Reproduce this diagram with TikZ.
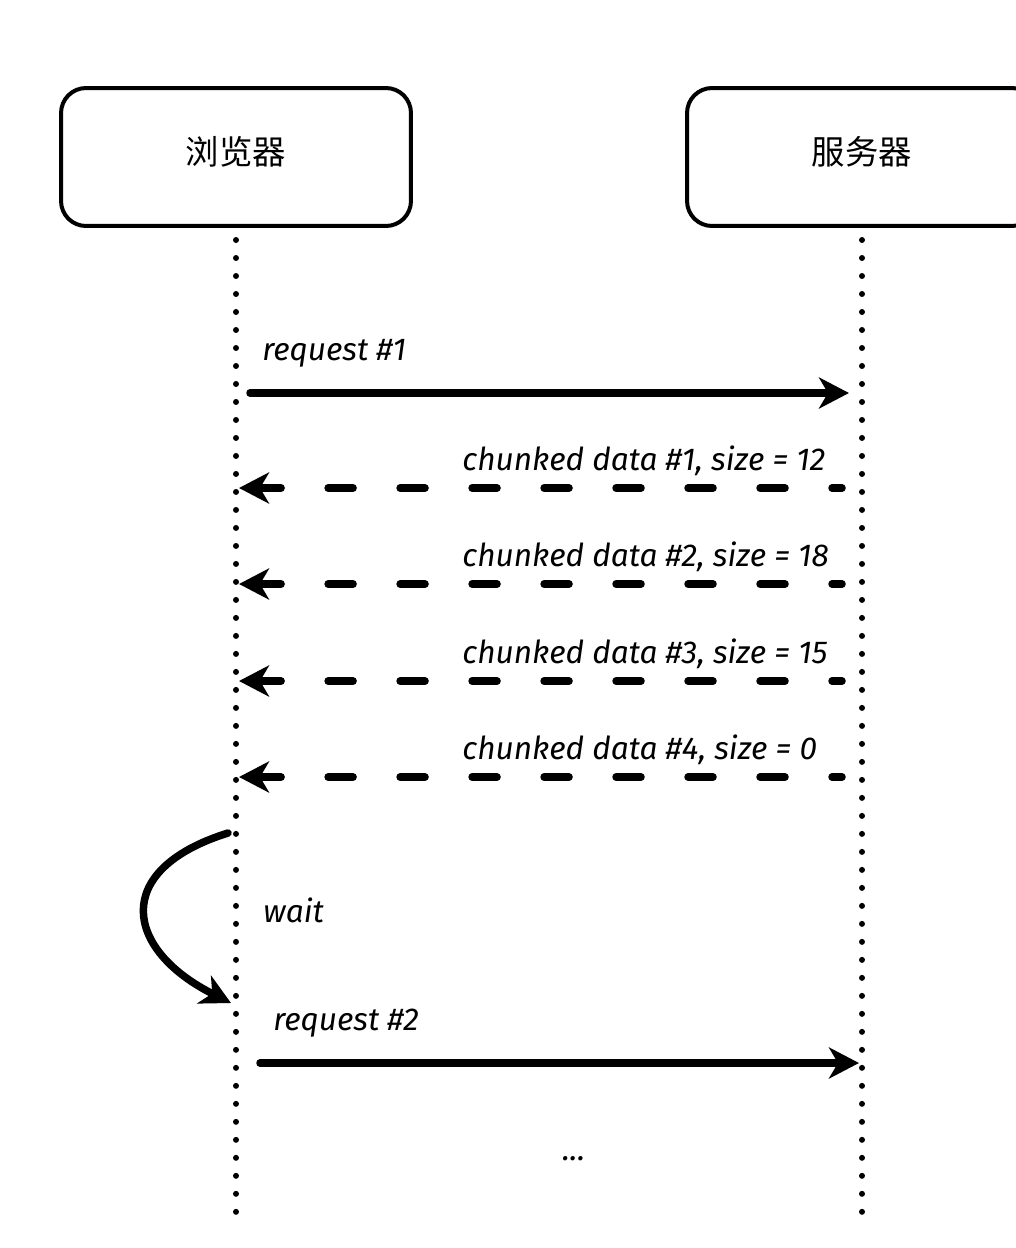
\documentclass[tikz,border=0pt]{standalone}
\usepackage{fontspec}
\setmainfont{Fira Sans}
\newfontfamily\cjk{Noto Sans CJK SC}
\usetikzlibrary{arrows.meta,positioning}
\tikzset{
party/.style={draw,line width=0.08cm,rounded corners=0.5cm,minimum width=7cm,minimum height=2.76cm,text depth=0.25cm,font=\cjk\fontsize{19}{22}\selectfont},
lifeline/.style={line width=0.12cm,line cap=round,dash pattern=on 0pt off 0.36cm},
msg/.style={line width=0.15cm,line cap=round,-{Stealth[length=0.6cm,width=0.62cm,inset=0.18cm]}},
reply/.style={msg,dash pattern=on 0.5cm off 0.94cm,dash phase=0.3cm},
lbl/.style={font=\itshape\fontsize{18}{21}\selectfont,anchor=base west,inner sep=0pt}
}
\begin{document}
\begin{tikzpicture}[x=0.02cm,y=-0.02cm]
\def	\bx	{236};
\def	\sx	{862};
\useasboundingbox (0,0) rectangle (1016,1248);
\clip (0,0) rectangle (1016,1248);
\node[party] (browser) at (\bx,157) {浏览器};
\node[party] (server) at (\sx,157) {服务器};
\coordinate (btop) at (\bx,240);
\coordinate (bend) at (\bx,1222);
\coordinate (stop) at (\sx,240);
\coordinate (send) at (\sx,1222);
\draw[lifeline] (btop) -- (bend);
\draw[lifeline] (stop) -- (send);
% first request
\coordinate (req1a) at (250,393);
\coordinate (req1b) at (849,393);
\draw[msg] (req1a) -- (req1b);
\node[lbl] (req1) at (262,360) {request \#1};
% chunks back
\foreach \i/\y/\n in {1/488/12,2/584/18,3/681/15,4/777/0}{
\coordinate (ch\i a) at (842,\y);
\coordinate (ch\i b) at (239,\y);
\draw[reply] (ch\i a) -- (ch\i b);
\node[lbl] (chunk\i) at (462,\y-18) {chunked data \#\i, size = \n};
}
% wait, then next request
\coordinate (waita) at (228,833);
\coordinate (waitb) at (231,1003);
\draw[msg] (waita) .. controls (110,870) and (125,950) .. (waitb);
\node[lbl] (wait) at (263,922) {wait};
\coordinate (req2a) at (260,1063);
\coordinate (req2b) at (859,1063);
\draw[msg] (req2a) -- (req2b);
\node[lbl] (req2) at (273,1030) {request \#2};
\node[lbl] (more) at (562,1160) {...};
\end{tikzpicture}
\end{document}
